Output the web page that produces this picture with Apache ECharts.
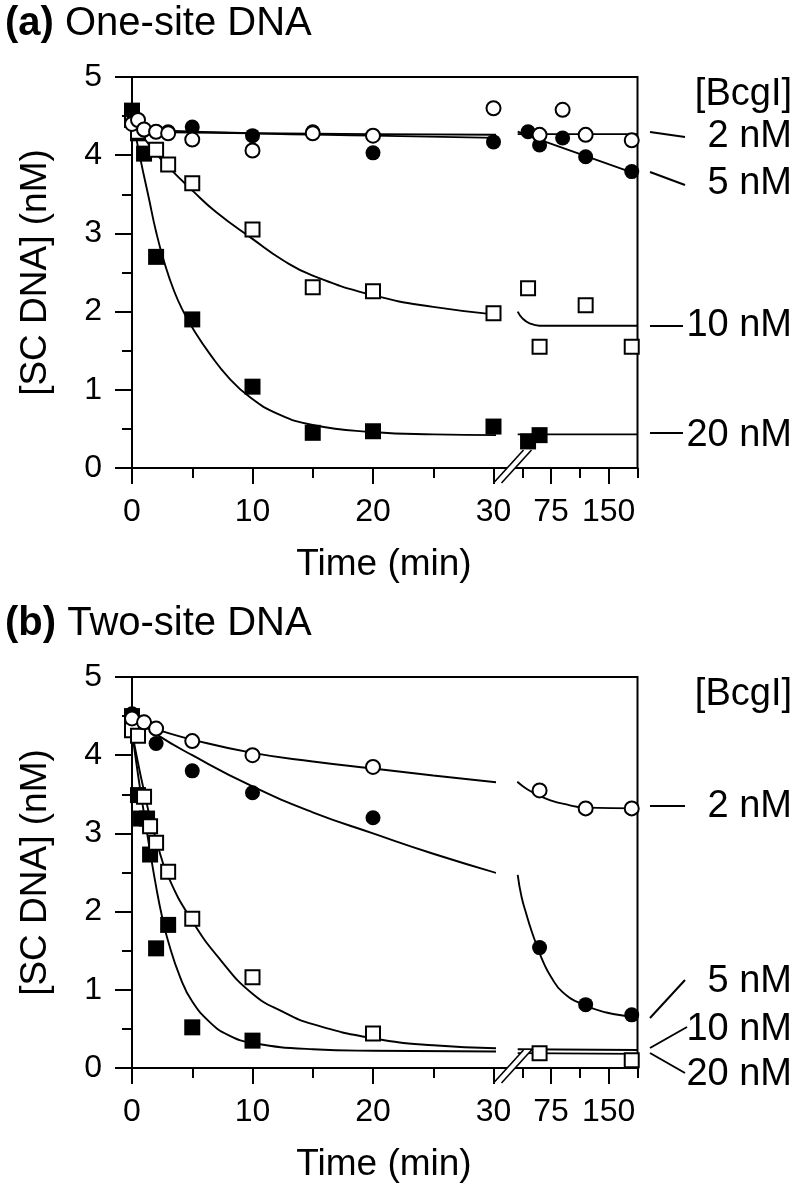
<!DOCTYPE html>
<html><head><meta charset="utf-8">
<script src="https://cdn.jsdelivr.net/npm/echarts@6/dist/echarts.min.js"></script>
<style>html,body{margin:0;padding:0;background:#fff}#c{width:800px;height:1196px}</style>
</head><body><div id="c"></div>
<script>
const FONT = 'Liberation Sans, Arial, Helvetica, sans-serif';

// ---- tick labels ----
const yTickValues = [0, 1, 2, 3, 4, 5];
const xTicksLeft = [0, 10, 20, 30];
const xTicksRightMajor = [75, 150];
const xTicksRightMinor = [37.5, 112.5, 187.5];
const concLabels = ['2 nM', '5 nM', '10 nM', '20 nM'];
const panelTitles = ['(a)', '(b)'];
const panelNames = ['One-site DNA', 'Two-site DNA'];

// ---- Panel (a): one-site DNA, measured points [time (min), nM] ----
const a2nM  = [[0,4.40],[0.5,4.45],[1,4.33],[2,4.30],[3,4.28],[5,4.20],[10,4.06],[15,4.28],[20,4.25],[30,4.60],[60,4.26],[90,4.58],[120,4.26],[180,4.19]];
const a5nM  = [[0,4.55],[1,4.32],[2,4.30],[3,4.30],[5,4.36],[10,4.25],[15,4.30],[20,4.03],[30,4.17],[45,4.30],[60,4.13],[90,4.22],[120,3.98],[180,3.79]];
const a10nM = [[0,4.45],[0.5,4.30],[2,4.07],[3,3.88],[5,3.64],[10,3.05],[15,2.31],[20,2.26],[30,1.98],[45,2.30],[60,1.55],[120,2.08],[180,1.55]];
const a20nM = [[0,4.57],[0.5,4.28],[1,4.02],[2,2.70],[5,1.90],[10,1.04],[15,0.45],[20,0.47],[30,0.53],[45,0.34],[60,0.42]];

// fitted curves (left part 0-30 min, right part after the break)
const a2nMFitL  = [[0,4.30],[10,4.28],[20,4.27],[31,4.26]];
const a2nMFitR  = [[31.5,4.27],[187.5,4.27]];
const a5nMFitL  = [[0,4.33],[10,4.28],[20,4.25],[31,4.22]];
const a5nMFitR  = [[31.5,4.30],[45,4.25],[180,3.78]];
const a10nMFitL = [[0,4.45],[1,4.22],[2,4.02],[3,3.85],[5,3.55],[7,3.27],[10,2.93],[12.5,2.66],[15,2.46],[20,2.21],[25,2.06],[31,1.95]];
const a10nMFitR = [[31.5,2.00],[38,1.91],[47,1.85],[60,1.82],[187.5,1.82]];
const a20nMFitL = [[0,4.50],[0.7,3.95],[1.4,3.45],[2,3.02],[2.7,2.62],[3.5,2.26],[4.3,1.99],[5.1,1.77],[6.5,1.45],[8,1.16],[9.75,0.91],[12,0.70],[15,0.55],[20,0.46],[25,0.43],[31,0.42]];
const a20nMFitR = [[31.5,0.43],[187.5,0.43]];

// ---- Panel (b): two-site DNA ----
const b2nM  = [[0,4.47],[1,4.42],[2,4.34],[5,4.18],[10,4.00],[20,3.85],[60,3.55],[120,3.32],[180,3.32]];
const b5nM  = [[0,4.53],[1,4.42],[2,4.15],[5,3.80],[10,3.52],[20,3.20],[60,1.54],[120,0.81],[180,0.68]];
const b10nM = [[0,4.32],[0.5,4.25],[1,3.47],[1.5,3.09],[2,2.88],[3,2.51],[5,1.91],[10,1.16],[20,0.44],[60,0.19],[180,0.10]];
const b20nM = [[0,4.50],[0.5,3.49],[0.75,3.19],[1.25,3.19],[1.5,2.73],[2,1.53],[3,1.83],[5,0.52],[10,0.35]];

const b2nMFitL  = [[0,4.42],[2,4.33],[5,4.20],[10,4.03],[15,3.92],[20,3.83],[25,3.74],[31,3.64]];
const b2nMFitR  = [[31,3.66],[40,3.59],[50,3.53],[60,3.48],[75,3.42],[90,3.38],[120,3.33],[187.5,3.32]];
const b5nMFitL  = [[0,4.50],[2,4.27],[5,4.00],[10,3.60],[15,3.27],[20,3.00],[25,2.74],[31,2.46]];
const b5nMFitR  = [[31.5,2.47],[36.5,2.19],[43,1.96],[50,1.74],[57,1.55],[65,1.35],[74,1.18],[90,0.97],[117,0.81],[147,0.71],[176,0.66],[187.5,0.64]];
const b10nMFitL = [[0,4.30],[0.5,3.90],[1,3.54],[1.5,3.20],[2,2.92],[3,2.45],[5,1.88],[7.35,1.38],[10,0.95],[12.5,0.72],[15,0.56],[20,0.38],[25,0.29],[31,0.25]];
const b10nMFitR = [[31.5,0.24],[187.5,0.23]];
const b20nMFitL = [[0,4.30],[0.5,3.75],[1,3.25],[1.5,2.77],[2,2.32],[2.5,1.93],[3,1.62],[4,1.16],[5,0.85],[6.5,0.58],[8,0.42],[10,0.32],[15,0.24],[20,0.22],[31,0.21]];
const b20nMFitR = [[31.5,0.19],[187.5,0.18]];

// ---- styles ----
const markerStyles = [
  {symbol:'circle', symbolSize:14, itemStyle:{color:'#fff', borderColor:'#000', borderWidth:2, opacity:1}},
  {symbol:'circle', symbolSize:15, itemStyle:{color:'#000', borderColor:'#000', borderWidth:0, opacity:1}},
  {symbol:'rect',   symbolSize:14, itemStyle:{color:'#fff', borderColor:'#000', borderWidth:2, opacity:1}},
  {symbol:'rect',   symbolSize:16, itemStyle:{color:'#000', borderColor:'#000', borderWidth:0, opacity:1}}
];

const panels = [
  {top:77,  pts:[a2nM,a5nM,a10nM,a20nM], fitsL:[a2nMFitL,a5nMFitL,a10nMFitL,a20nMFitL], fitsR:[a2nMFitR,a5nMFitR,a10nMFitR,a20nMFitR]},
  {top:677, pts:[b2nM,b5nM,b10nM,b20nM], fitsL:[b2nMFitL,b5nMFitL,b10nMFitL,b20nMFitL], fitsR:[b2nMFitR,b5nMFitR,b10nMFitR,b20nMFitR]}
];

const PLOT_LEFT = 132, BREAK_X = 493.5, PLOT_RIGHT = 637.5, PLOT_H = 391;
const axisLineStyle = {color:'#000', width:2};
const tickLabel = {color:'#000', fontSize:32, fontFamily:FONT};

const grid = [], xAxis = [], yAxis = [], series = [];
panels.forEach((p, pi) => {
  const g0 = grid.length;
  grid.push({left:PLOT_LEFT, top:p.top, width:BREAK_X-PLOT_LEFT, height:PLOT_H});
  grid.push({left:BREAK_X, top:p.top, width:PLOT_RIGHT-BREAK_X, height:PLOT_H});
  grid.push({left:PLOT_LEFT, top:p.top, width:PLOT_RIGHT-PLOT_LEFT, height:PLOT_H, show:true,
             borderColor:'#000', borderWidth:2, backgroundColor:'rgba(0,0,0,0)', z:0});
  const xL = xAxis.length;
  xAxis.push({gridIndex:g0, type:'value', min:0, max:30, interval:10, position:'bottom',
    axisLine:{show:true, lineStyle:axisLineStyle}, splitLine:{show:false},
    axisTick:{show:true, length:16, lineStyle:axisLineStyle},
    minorTick:{show:true, splitNumber:2, length:10, lineStyle:axisLineStyle},
    axisLabel:{...tickLabel, margin:28, formatter:v => xTicksLeft.includes(v) ? String(v) : ''}});
  const xR = xAxis.length;
  xAxis.push({gridIndex:g0+1, type:'value', min:0, max:187.5, interval:37.5, position:'bottom',
    axisLine:{show:true, lineStyle:axisLineStyle}, splitLine:{show:false},
    axisTick:{show:true, length:16, lineStyle:axisLineStyle, customValues:xTicksRightMajor},
    axisLabel:{...tickLabel, margin:28, customValues:xTicksRightMajor}});
  xAxis.push({gridIndex:g0+1, type:'value', min:0, max:187.5, interval:37.5, position:'bottom',
    axisLine:{show:false}, splitLine:{show:false},
    axisTick:{show:true, length:10, lineStyle:axisLineStyle, customValues:xTicksRightMinor},
    axisLabel:{show:false}});
  xAxis.push({gridIndex:g0+2, type:'value', show:false, min:0, max:1});
  const yL = yAxis.length;
  yAxis.push({gridIndex:g0, type:'value', min:0, max:5, interval:1,
    axisLine:{show:true, lineStyle:axisLineStyle}, splitLine:{show:false},
    axisTick:{show:true, length:17, lineStyle:axisLineStyle},
    minorTick:{show:true, splitNumber:2, length:10, lineStyle:axisLineStyle},
    axisLabel:{...tickLabel, margin:30, formatter:v => yTickValues.includes(v) ? String(v) : ''}});
  const yR = yAxis.length;
  yAxis.push({gridIndex:g0+1, type:'value', show:false, min:0, max:5});
  yAxis.push({gridIndex:g0+2, type:'value', show:false, min:0, max:1});

  // fitted curves
  [p.fitsL, p.fitsR].forEach((fits, side) => {
    fits.forEach(f => {
      series.push({type:'line', xAxisIndex: side ? xR : xL, yAxisIndex: side ? yR : yL,
        data:f, showSymbol:false, symbol:'none', smooth:0.5, clip:false, silent:true, z:2,
        lineStyle:{color:'#000', width:1.9, opacity:1}});
    });
  });
  // measured points (drawn 20 -> 2 so open circles end on top)
  [3,2,1,0].forEach(ci => {
    const arr = p.pts[ci];
    const ms = markerStyles[ci];
    series.push({type:'scatter', xAxisIndex:xL, yAxisIndex:yL, data:arr.filter(d => d[0] <= 30),
      symbol:ms.symbol, symbolSize:ms.symbolSize, itemStyle:ms.itemStyle, z:4, clip:false, silent:true});
    series.push({type:'scatter', xAxisIndex:xR, yAxisIndex:yR, data:arr.filter(d => d[0] > 30),
      symbol:ms.symbol, symbolSize:ms.symbolSize, itemStyle:ms.itemStyle, z:4, clip:false, silent:true});
  });
});

const chart = echarts.init(document.getElementById('c'), null, {renderer:'canvas'});
chart.setOption({
  animation:false, backgroundColor:'#fff',
  textStyle:{fontFamily:FONT, color:'#000'},
  grid, xAxis, yAxis, series
});

// ---- annotations (titles, axis names, concentration labels, axis breaks) ----
const graphic = [];
const textEl = (x, y, text, size, align, extra) => ({type:'text', x, y, z:10, silent:true,
  style:Object.assign({text, fontSize:size, fontFamily:FONT, fill:'#000', align, verticalAlign:'middle'}, extra || {})});
const lineEl = (x1, y1, x2, y2) => ({type:'line', z:10, silent:true,
  shape:{x1, y1, x2, y2}, style:{stroke:'#000', lineWidth:2}});

const labelY = [
  {head:95,  lab:[137, 184, 326, 436], lines:[[132,137],[172,185],[326,326],[433,433]], lx:[650,650,650,650], lx2:[685,685,683,683]},
  {head:695, lab:[807, 982, 1030, 1075], lines:[[806,806],[1018,980],[1048,1027],[1053,1073]], lx:[650,650,650,650], lx2:[685,685,687,685]}
];

panels.forEach((p, pi) => {
  const top = p.top;
  graphic.push(textEl(5, top - 53, '{b|' + panelTitles[pi] + '} ' + panelNames[pi], 40, 'left',
    {rich:{b:{fontWeight:'bold', fontSize:40, fontFamily:FONT}}}));
  graphic.push(textEl(384, top + 488, 'Time (min)', 37, 'center'));
  graphic.push(Object.assign(textEl(36, top + 195.5, '[SC DNA] (nM)', 37, 'center'), {rotation:Math.PI/2}));
  const L = labelY[pi];
  graphic.push(textEl(792, L.head, '[BcgI]', 38, 'right'));
  concLabels.forEach((c, i) => {
    graphic.push(textEl(792, L.lab[i], c, 38, 'right'));
    graphic.push(lineEl(L.lx[i], L.lines[i][0], L.lx2[i], L.lines[i][1]));
  });
  // axis break "//" at 30 min
  const xIdx = pi * 4, yIdx = pi * 3;
  const [x0, y0] = chart.convertToPixel({xAxisIndex:xIdx, yAxisIndex:yIdx}, [30, 0]);
  graphic.push({type:'polygon', z:3, silent:true,
    shape:{points:[[x0, y0+15],[x0+8, y0+15],[x0+38, y0-18],[x0+30, y0-18]]},
    style:{fill:'#fff', stroke:null}});
  graphic.push({type:'line', z:3, silent:true, shape:{x1:x0, y1:y0+15, x2:x0+30, y2:y0-18}, style:{stroke:'#000', lineWidth:1.6}});
  graphic.push({type:'line', z:3, silent:true, shape:{x1:x0+8, y1:y0+15, x2:x0+38, y2:y0-18}, style:{stroke:'#000', lineWidth:1.6}});
});

chart.setOption({graphic});
</script>
</body></html>
